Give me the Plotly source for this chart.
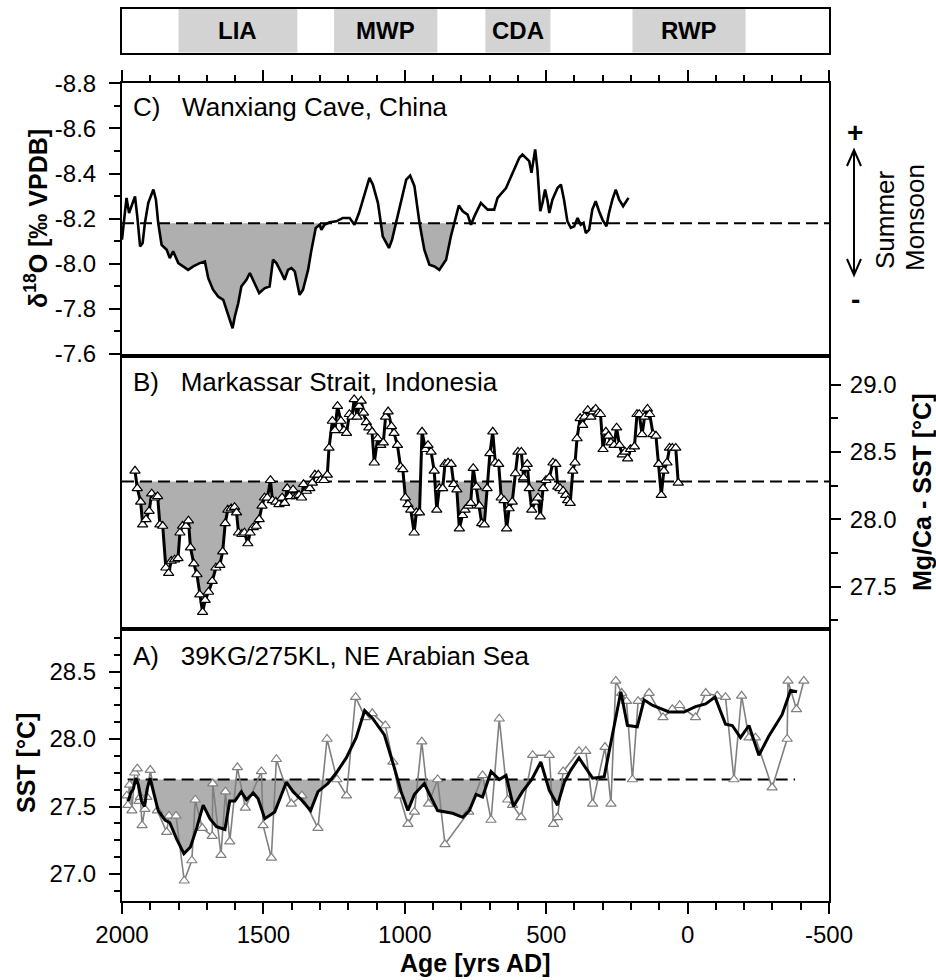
import plotly.graph_objects as go

# ------------------------------------------------------------------ data
x_axis_range = [2000, -500]
x_tick_vals = [2000, 1500, 1000, 500, 0, -500]
x_tick_text = ["2000", "1500", "1000", "500", "0", "-500"]

c_tick_vals = [-8.8, -8.6, -8.4, -8.2, -8.0, -7.8, -7.6]
c_tick_text = ["-8.8", "-8.6", "-8.4", "-8.2", "-8.0", "-7.8", "-7.6"]
b_tick_vals = [27.5, 28.0, 28.5, 29.0]
b_tick_text = ["27.5", "28.0", "28.5", "29.0"]
a_tick_vals = [27.0, 27.5, 28.0, 28.5]
a_tick_text = ["27.0", "27.5", "28.0", "28.5"]

period_names = ["LIA", "MWP", "CDA", "RWP"]
period_start = [1800, 1250, 715, 195]
period_end = [1380, 885, 485, -205]

# C) Wanxiang Cave delta18O
c_year = [2000, 1993, 1984, 1975, 1966, 1954, 1946, 1936, 1927, 1919,
          1907, 1889, 1880, 1872, 1860, 1842, 1831, 1819, 1801, 1784,
          1766, 1748, 1725, 1707, 1695, 1678, 1660, 1642, 1631, 1619,
          1609, 1601, 1589, 1578, 1560, 1548, 1531, 1515, 1495, 1478,
          1466, 1454, 1436, 1425, 1413, 1401, 1389, 1381, 1372, 1360,
          1342, 1331, 1315, 1301, 1295, 1284, 1266, 1242, 1219, 1195,
          1178, 1162, 1148, 1136, 1125, 1113, 1095, 1078, 1066, 1056,
          1045, 1031, 1013, 995, 981, 966, 948, 931, 913, 895,
          878, 854, 837, 821, 809, 795, 778, 766, 754, 731,
          707, 684, 672, 642, 619, 595, 584, 572, 560, 552,
          546, 539, 531, 521, 513, 504, 495, 489, 478, 460,
          448, 437, 425, 413, 401, 389, 378, 368, 360, 348,
          337, 325, 313, 301, 287, 278, 266, 254, 242, 228,
          209]
c_val = [-8.107, -8.203, -8.292, -8.225, -8.255, -8.299, -8.210, -8.077, -8.092, -8.181,
         -8.270, -8.329, -8.284, -8.181, -8.084, -8.062, -8.025, -8.055, -8.003, -7.988,
         -7.973, -7.988, -8.003, -8.010, -7.936, -7.885, -7.855, -7.840, -7.796, -7.751,
         -7.714, -7.766, -7.825, -7.899, -7.929, -7.959, -7.914, -7.870, -7.892, -7.899,
         -8.018, -8.003, -7.959, -7.929, -7.973, -7.981, -7.966, -7.914, -7.862, -7.885,
         -7.973, -8.055, -8.159, -8.173, -8.150, -8.173, -8.184, -8.188, -8.203, -8.203,
         -8.173, -8.225, -8.284, -8.344, -8.381, -8.351, -8.270, -8.122, -8.092, -8.070,
         -8.107, -8.181, -8.284, -8.373, -8.391, -8.344, -8.181, -8.062, -7.996, -7.988,
         -7.973, -8.018, -8.122, -8.196, -8.258, -8.233, -8.218, -8.173, -8.210, -8.270,
         -8.240, -8.240, -8.292, -8.336, -8.403, -8.470, -8.484, -8.470, -8.455, -8.403,
         -8.447, -8.507, -8.418, -8.233, -8.270, -8.329, -8.277, -8.225, -8.284, -8.336,
         -8.351, -8.284, -8.188, -8.159, -8.166, -8.203, -8.173, -8.181, -8.136, -8.151,
         -8.240, -8.277, -8.233, -8.196, -8.166, -8.225, -8.284, -8.329, -8.284, -8.255,
         -8.292]
c_base = -8.18
c_fill_years = [800, 1880]

# B) Makassar Strait Mg/Ca SST
b_year = [1954, 1946, 1934, 1927, 1915, 1904, 1895, 1884, 1874, 1866,
          1856, 1845, 1835, 1826, 1814, 1802, 1795, 1786, 1774, 1765,
          1758, 1746, 1735, 1725, 1715, 1706, 1694, 1681, 1668, 1654,
          1644, 1635, 1626, 1614, 1602, 1595, 1588, 1576, 1567, 1555,
          1547, 1536, 1525, 1515, 1505, 1496, 1486, 1475, 1468, 1456,
          1445, 1434, 1425, 1416, 1407, 1395, 1384, 1374, 1365, 1358,
          1348, 1336, 1327, 1318, 1306, 1298, 1286, 1274, 1268, 1256,
          1247, 1238, 1226, 1215, 1206, 1196, 1187, 1179, 1169, 1162,
          1154, 1146, 1136, 1127, 1116, 1108, 1096, 1085, 1076, 1068,
          1059, 1047, 1038, 1026, 1015, 1007, 998, 989, 979, 967,
          959, 948, 939, 927, 918, 907, 896, 887, 878, 866,
          858, 847, 836, 827, 816, 807, 796, 787, 775, 767,
          758, 747,
          736, 728, 719, 709, 699, 689, 680, 668, 659, 649,
          640, 631, 620, 609, 600, 588, 580, 574, 567, 560,
          551, 539, 529, 521, 511, 501, 489, 476, 466, 459,
          451, 440, 431, 424, 415, 406, 398, 391, 380, 371,
          364, 353, 342, 334, 325, 316, 308, 299, 289, 280,
          271, 260, 251, 241, 231, 221, 212, 202, 188, 179,
          171, 161, 152, 142, 134, 122, 112, 102, 93, 84,
          73, 64, 54, 42, 33]
b_val = [28.36, 28.23, 28.13, 27.96, 28.00, 28.06, 28.19, 28.16, 28.17, 27.96,
         27.95, 27.64, 27.60, 27.69, 27.70, 27.71, 27.90, 27.95, 27.95, 27.99,
         27.79, 27.67, 27.59, 27.44, 27.31, 27.40, 27.46, 27.54, 27.64, 27.66,
         27.76, 27.97, 28.07, 28.08, 28.09, 28.05, 27.90, 27.89, 27.90, 27.82,
         27.90, 27.94, 27.95, 28.00, 28.10, 28.16, 28.16, 28.29, 28.14, 28.13,
         28.11, 28.16, 28.12, 28.23, 28.17, 28.22, 28.17, 28.18, 28.16, 28.26,
         28.21, 28.23, 28.27, 28.33, 28.33, 28.29, 28.29, 28.33, 28.53, 28.73,
         28.66, 28.84, 28.73, 28.66, 28.64, 28.78, 28.76, 28.89, 28.76, 28.84,
         28.88, 28.79, 28.72, 28.68, 28.65, 28.42, 28.60, 28.55, 28.57, 28.76,
         28.80, 28.69, 28.64, 28.55, 28.39, 28.37, 28.16, 28.11, 28.07, 27.90,
         28.05, 28.05, 28.65, 28.52, 28.55, 28.50, 28.36, 28.07, 28.23, 28.23,
         28.41, 28.42, 28.41, 28.26, 28.22, 27.93, 28.03, 28.07, 28.10, 28.12,
         28.38, 28.24,
         28.10, 27.97, 27.96, 28.23, 28.49, 28.65, 28.42, 28.41, 28.16, 28.14,
         27.93, 28.08, 28.13, 28.34, 28.50, 28.50, 28.31, 28.38, 28.41, 28.23,
         28.07, 28.13, 28.16, 28.02, 28.23, 28.29, 28.31, 28.42, 28.41, 28.24,
         28.23, 28.21, 28.18, 28.14, 28.12, 28.36, 28.42, 28.60, 28.75, 28.70,
         28.76, 28.81, 28.76, 28.80, 28.82, 28.79, 28.78, 28.52, 28.65, 28.62,
         28.57, 28.55, 28.68, 28.55, 28.48, 28.50, 28.45, 28.52, 28.54, 28.78,
         28.78, 28.63, 28.76, 28.82, 28.78, 28.63, 28.62, 28.41, 28.18, 28.36,
         28.42, 28.53, 28.53, 28.53, 28.27]
b_base = 28.28
b_fill_years = [400, 1960]

# A) 39KG/275KL, NE Arabian Sea - raw SST
a_raw_year = [1983, 1979, 1973, 1965, 1955, 1946, 1940, 1935, 1929, 1919,
              1912, 1900, 1875, 1842, 1834, 1809, 1780, 1753, 1741, 1716,
              1681, 1679, 1650, 1634, 1619, 1592, 1564, 1507, 1501, 1472,
              1454, 1401, 1364, 1307, 1275, 1240, 1206, 1174, 1140, 1115,
              1069, 1042, 1019, 989, 966, 940, 916, 884, 858, 774,
              725, 695, 666, 636, 619, 589, 548, 489, 474, 460,
              440, 384, 360, 336, 292, 271, 254, 233, 216, 195,
              175, 136, 87, 54, 28, -28, -64, -105, -134, -164,
              -191, -217, -240, -299, -352, -355, -385, -411]
a_raw_val = [27.58, 27.51, 27.66, 27.47, 27.75, 27.78, 27.54, 27.57, 27.36, 27.48,
             27.57, 27.77, 27.47, 27.31, 27.43, 27.43, 26.95, 27.10, 27.55, 27.34,
             27.28, 27.67, 27.14, 27.61, 27.24, 27.79, 27.49, 27.76, 27.36, 27.12,
             27.85, 27.52, 27.58, 27.34, 28.00, 27.70, 27.58, 28.31, 28.16, 28.19,
             28.10, 27.83, 27.58, 27.37, 27.46, 27.98, 27.52, 27.70, 27.22, 27.46,
             27.73, 27.40, 28.15, 27.55, 27.51, 27.42, 27.88, 27.88, 27.37, 27.42,
             27.76, 27.91, 27.91, 27.52, 27.94, 27.52, 28.43, 28.34, 28.28, 27.70,
             28.28, 28.34, 28.16, 28.22, 28.25, 28.16, 28.34, 28.32, 28.31, 27.70,
             28.32, 28.01, 28.01, 27.64, 28.00, 28.43, 28.22, 28.43]
# A) smoothed SST
a_sm_year = [1978, 1969, 1960, 1951, 1942, 1931, 1921, 1911, 1901, 1889,
             1872, 1848, 1831, 1807, 1781, 1758, 1736, 1713, 1689, 1666,
             1636, 1619, 1601, 1578, 1560, 1536, 1519, 1495, 1460, 1419,
             1395, 1366, 1333, 1307, 1272, 1242, 1207, 1172, 1142, 1113,
             1072, 1036, 1013, 989, 966, 931, 884, 831, 795, 772,
             748, 725, 695, 666, 642, 616, 584, 551, 519, 489,
             460, 436, 413, 384, 360, 336, 295, 266, 236, 213,
             178, 154, 125, 66, 13, -28, -64, -97, -134, -158,
             -187, -217, -252, -287, -334, -364, -387]
a_sm_val = [27.54, 27.60, 27.63, 27.71, 27.66, 27.54, 27.50, 27.63, 27.71, 27.61,
            27.47, 27.40, 27.38, 27.26, 27.15, 27.20, 27.34, 27.51, 27.41, 27.35,
            27.33, 27.54, 27.54, 27.61, 27.55, 27.60, 27.56, 27.41, 27.46, 27.68,
            27.61, 27.55, 27.47, 27.61, 27.67, 27.75, 27.86, 28.01, 28.21, 28.15,
            28.03, 27.78, 27.61, 27.47, 27.59, 27.67, 27.47, 27.45, 27.42, 27.47,
            27.59, 27.57, 27.76, 27.70, 27.73, 27.50, 27.61, 27.70, 27.83, 27.62,
            27.51, 27.68, 27.77, 27.86, 27.78, 27.71, 27.72, 28.03, 28.35, 28.10,
            28.09, 28.29, 28.25, 28.20, 28.20, 28.24, 28.26, 28.31, 28.11, 28.10,
            28.01, 28.10, 27.88, 28.02, 28.18, 28.36, 28.35]
a_base = 27.70
a_base_years = [1980, -380]
a_fill_years = [400, 2000]

# ------------------------------------------------------------------ layout helpers
W, H = 936, 980
PL, PR, PT, PB = 122, 829, 9, 901         # plotting rectangle in page pixels
FONT = "Liberation Sans, Arial, Helvetica, sans-serif"
FILL = "#afafaf"
DASH = "12px,6px"


def fx(px):
    return (px - PL) / (PR - PL)


def fy(py):
    return (PB - py) / (PB - PT)


def dom(top, bottom):
    return [fy(bottom), fy(top)]


def fill_poly(xs, ys, base, below, lo, hi):
    pts = []
    for i in range(len(xs)):
        if i > 0:
            d0, d1 = ys[i - 1] - base, ys[i] - base
            if d0 * d1 < 0:
                t = d0 / (d0 - d1)
                pts.append((xs[i - 1] + t * (xs[i] - xs[i - 1]), base))
        pts.append((xs[i], ys[i]))
    ox, oy = [], []
    for x, y in pts:
        if lo <= x <= hi:
            ox.append(x)
            oy.append(min(y, base) if below else max(y, base))
    ox += [ox[-1], ox[0]]
    oy += [base, base]
    return ox, oy


fig = go.Figure()

# ---- panel C
px_, py_ = fill_poly(c_year, c_val, c_base, False, *c_fill_years)
fig.add_trace(go.Scatter(x=px_, y=py_, xaxis="x3", yaxis="y3", mode="lines",
                         fill="toself", fillcolor=FILL, line=dict(width=0)))
fig.add_trace(go.Scatter(x=x_axis_range, y=[c_base, c_base], xaxis="x3", yaxis="y3",
                         mode="lines", line=dict(color="black", width=2, dash=DASH)))
fig.add_trace(go.Scatter(x=c_year, y=c_val, xaxis="x3", yaxis="y3", mode="lines",
                         line=dict(color="black", width=2.6)))

# ---- panel B
px_, py_ = fill_poly(b_year, b_val, b_base, True, *b_fill_years)
fig.add_trace(go.Scatter(x=px_, y=py_, xaxis="x2", yaxis="y2", mode="lines",
                         fill="toself", fillcolor=FILL, line=dict(width=0)))
fig.add_trace(go.Scatter(x=x_axis_range, y=[b_base, b_base], xaxis="x2", yaxis="y2",
                         mode="lines", line=dict(color="black", width=2, dash=DASH)))
fig.add_trace(go.Scatter(x=b_year, y=b_val, xaxis="x2", yaxis="y2", mode="lines+markers",
                         line=dict(color="black", width=3),
                         marker=dict(symbol="triangle-up", size=9, color="white",
                                     line=dict(color="black", width=1.2))))

# ---- panel A
px_, py_ = fill_poly(a_sm_year, a_sm_val, a_base, True, *a_fill_years)
fig.add_trace(go.Scatter(x=px_, y=py_, xaxis="x", yaxis="y", mode="lines",
                         fill="toself", fillcolor=FILL, line=dict(width=0)))
fig.add_trace(go.Scatter(x=a_base_years, y=[a_base, a_base], xaxis="x", yaxis="y",
                         mode="lines", line=dict(color="black", width=2, dash=DASH)))
fig.add_trace(go.Scatter(x=a_raw_year, y=a_raw_val, xaxis="x", yaxis="y", mode="lines+markers",
                         line=dict(color="#808080", width=1.6),
                         marker=dict(symbol="triangle-up", size=9, color="white",
                                     line=dict(color="#808080", width=1.2))))
fig.add_trace(go.Scatter(x=a_sm_year, y=a_sm_val, xaxis="x", yaxis="y", mode="lines",
                         line=dict(color="black", width=3)))

# ---- period bar (empty trace so the subplot exists)
fig.add_trace(go.Scatter(x=[None], y=[None], xaxis="x4", yaxis="y4", mode="lines"))

tickfont = dict(family=FONT, size=24, color="black")
frame = dict(showgrid=False, zeroline=False, showline=True, linecolor="black",
             linewidth=2, mirror=True, automargin=False)

fig.update_layout(
    width=W, height=H,
    margin=dict(l=PL, r=W - PR, t=PT, b=H - PB, pad=0),
    paper_bgcolor="white", plot_bgcolor="white",
    showlegend=False, hovermode=False,
    font=dict(family=FONT, color="black"),
    xaxis=dict(**frame, anchor="y", domain=[0, 1], range=x_axis_range,
               ticks="outside", ticklen=11, tickwidth=2, tickcolor="black",
               tickmode="array", tickvals=x_tick_vals, ticktext=x_tick_text,
               tickfont=tickfont,
               minor=dict(ticks="outside", ticklen=7, tickwidth=1.5, tickcolor="black",
                          tickmode="linear", tick0=0, dtick=100)),
    yaxis=dict(**frame, anchor="x", domain=dom(631, 901), range=[26.8, 28.8],
               ticks="outside", ticklen=11, tickwidth=2, tickcolor="black",
               tickmode="array", tickvals=a_tick_vals, ticktext=a_tick_text,
               tickfont=tickfont, ticklabelstandoff=8,
               minor=dict(ticks="outside", ticklen=6, tickwidth=1.5, tickcolor="black",
                          tickmode="linear", tick0=27.0, dtick=0.125)),
    xaxis2=dict(**frame, anchor="y2", domain=[0, 1], range=x_axis_range,
                ticks="", showticklabels=False),
    yaxis2=dict(**frame, anchor="x2", side="right", domain=dom(357.7, 627),
                range=[27.2, 29.2],
                ticks="outside", ticklen=10, tickwidth=2, tickcolor="black",
                tickmode="array", tickvals=b_tick_vals, ticktext=b_tick_text,
                tickfont=tickfont, ticklabelstandoff=4,
                minor=dict(ticks="outside", ticklen=7, tickwidth=1.5, tickcolor="black",
                           tickmode="linear", tick0=27.0, dtick=0.25)),
    xaxis3=dict(**frame, anchor="y3", side="top", domain=[0, 1], range=x_axis_range,
                ticks="outside", ticklen=11, tickwidth=2, tickcolor="black",
                tickmode="array", tickvals=x_tick_vals, showticklabels=False,
                minor=dict(ticks="outside", ticklen=6, tickwidth=1.5, tickcolor="black",
                           tickmode="linear", tick0=0, dtick=100)),
    yaxis3=dict(**frame, anchor="x3", domain=dom(83.3, 354), range=[-7.6, -8.8],
                ticks="outside", ticklen=11, tickwidth=2, tickcolor="black",
                tickmode="array", tickvals=c_tick_vals, ticktext=c_tick_text,
                tickfont=tickfont, ticklabelstandoff=8,
                minor=dict(ticks="outside", ticklen=6, tickwidth=1.5, tickcolor="black",
                           tickmode="linear", tick0=-8.8, dtick=0.1)),
    xaxis4=dict(**frame, anchor="y4", domain=[0, 1], range=x_axis_range,
                ticks="", showticklabels=False),
    yaxis4=dict(**frame, anchor="x4", domain=dom(9, 52.5), range=[0, 1],
                ticks="", showticklabels=False),
)

shapes = []
annotations = []

# period bands and labels
for name, s, e in zip(period_names, period_start, period_end):
    shapes.append(dict(type="rect", xref="x4", yref="y4 domain", x0=s, x1=e, y0=0, y1=1,
                       fillcolor="#d3d3d3", line=dict(width=0), layer="below"))
    annotations.append(dict(x=(s + e) / 2, y=0.5, xref="x4", yref="y4 domain",
                            text=f"<b>{name}</b>", showarrow=False,
                            font=dict(family=FONT, size=24, color="black"),
                            xanchor="center", yanchor="middle"))

# panel labels
SP = "\u00a0\u00a0\u00a0"
panel_labels = ["C)" + SP + "Wanxiang Cave, China",
                "B)" + SP + "Markassar Strait, Indonesia",
                "A)" + SP + "39KG/275KL, NE Arabian Sea"]
for txt, ypx in zip(panel_labels, [107, 382, 656]):
    annotations.append(dict(x=fx(131), y=fy(ypx), xref="paper", yref="paper", text=txt,
                            showarrow=False, xanchor="left", yanchor="middle",
                            font=dict(family=FONT, size=26, color="black")))

# axis titles
titles = [("<b>δ<sup>18</sup>O [‰ VPDB]</b>", 36, 219),
          ("<b>SST [°C]</b>", 26, 763),
          ("<b>Mg/Ca - SST [°C]</b>", 922, 492)]
for txt, xp, yp in titles:
    annotations.append(dict(x=fx(xp), y=fy(yp), xref="paper", yref="paper", text=txt,
                            showarrow=False, textangle=-90, xanchor="center", yanchor="middle",
                            font=dict(family=FONT, size=25, color="black")))
annotations.append(dict(x=fx(475), y=fy(963), xref="paper", yref="paper",
                        text="<b>Age [yrs AD]</b>", showarrow=False,
                        xanchor="center", yanchor="middle",
                        font=dict(family=FONT, size=25, color="black")))

# summer monsoon indicator
for txt, xp, yp in [("Summer", 885, 220), ("Monsoon", 915, 218)]:
    annotations.append(dict(x=fx(xp), y=fy(yp), xref="paper", yref="paper", text=txt,
                            showarrow=False, textangle=-90, xanchor="center", yanchor="middle",
                            font=dict(family=FONT, size=26, color="black")))
for txt, xp, yp in [("<b>+</b>", 855, 132), ("<b>-</b>", 855, 299)]:
    annotations.append(dict(x=fx(xp), y=fy(yp), xref="paper", yref="paper", text=txt,
                            showarrow=False, xanchor="center", yanchor="middle",
                            font=dict(family=FONT, size=28, color="black")))


def path(points):
    return "M " + " L ".join(f"{fx(a):.5f},{fy(b):.5f}" for a, b in points)


for pts in ([(854, 150), (854, 275)],
            [(847, 166), (854, 150), (861, 166)],
            [(847, 259), (854, 275), (861, 259)]):
    shapes.append(dict(type="path", xref="paper", yref="paper", path=path(pts),
                       line=dict(color="black", width=2)))

fig.update_layout(shapes=shapes, annotations=annotations)

# remove the browser's default 8px body margin so the 936x980 figure fills the window
page_css = ("document.body.style.margin='0';document.body.style.padding='0';"
            "document.body.style.overflow='hidden';")
fig.write_html("out.html", config={"displayModeBar": False}, post_script=page_css)
